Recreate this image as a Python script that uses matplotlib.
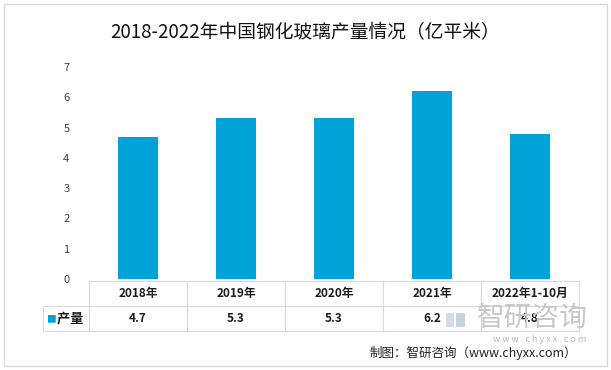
import matplotlib.pyplot as plt
from matplotlib.patches import Rectangle

plt.rcParams['font.family'] = ['Noto Sans CJK SC', 'DejaVu Sans']

years = ["2018年", "2019年", "2020年", "2021年", "2022年1-10月"]
output = [4.7, 5.3, 5.3, 6.2, 4.8]
series_name = "产量"
yticks = [0, 1, 2, 3, 4, 5, 6, 7]

BAR_COLOR = "#00a2da"
GRID_COLOR = "#d9d9d9"

fig = plt.figure(figsize=(6.11, 3.70), dpi=100)
ax = fig.add_axes([89 / 611, 1 - 279 / 370, 490 / 611, 212 / 370])

x = list(range(len(years)))
ax.bar(x, output, width=0.4, color=BAR_COLOR, zorder=2)
ax.set_xlim(-0.5, len(years) - 0.5)
ax.set_ylim(0, 7)
ax.set_yticks(yticks)
ax.set_yticklabels([str(t) for t in yticks], fontsize=8, color="#404040")
ax.tick_params(axis="y", length=0, pad=14)
ax.set_xticks([])
for side in ["top", "right", "left", "bottom"]:
    ax.spines[side].set_visible(False)

# data table under the axes
cell_text = [[""] + years, [series_name] + ["%.1f" % v for v in output]]
tot_w = 536.0
col_w = [46 / tot_w] + [98 / tot_w] * len(years)
tbl = ax.table(cellText=cell_text, colWidths=col_w, cellLoc="center",
               bbox=[-46 / 490, -52 / 212, 536 / 490, 50 / 212])
tbl.auto_set_font_size(False)
for (r, c), cell in tbl.get_celld().items():
    cell.set_edgecolor(GRID_COLOR)
    cell.set_linewidth(0.8)
    cell.get_text().set_fontsize(8.5)
    cell.get_text().set_fontweight("bold")
    cell.get_text().set_color("#1a1a1a")
    if r == 0 and c == 0:
        cell.visible_edges = ""
    if r == 1 and c == 0:
        cell.get_text().set_text("   " + series_name)
        cell.get_text().set_fontsize(9.5)
ax.text(-38 / 490, -40 / 212, "■", transform=ax.transAxes, color=BAR_COLOR,
        fontsize=7, ha="center", va="center")

# title
fig.text(0.5, 1 - 33 / 370, "2018-2022年中国钢化玻璃产量情况（亿平米）",
         ha="center", va="center", fontsize=13.5, color="#111111")

# watermark
fig.text(532 / 611, 1 - 318 / 370, "智研咨询", ha="center", va="center",
         fontsize=20, color="#c8c8c8", zorder=0)
fig.text(540 / 611, 1 - 340 / 370, "w w w . c h y x x . c o m", ha="center",
         va="center", fontsize=6.5, color="#b8b8b8", zorder=0)
fig.patches.append(Rectangle((446 / 611, 1 - 327 / 370), 8 / 611, 14 / 370,
                             transform=fig.transFigure, facecolor="#d3dbe5",
                             edgecolor="none", zorder=0))
fig.patches.append(Rectangle((456 / 611, 1 - 327 / 370), 9 / 611, 14 / 370,
                             transform=fig.transFigure, facecolor="#c4d2e2",
                             edgecolor="none", zorder=0))

# source
fig.text(577 / 611, 1 - 353 / 370, "制图：智研咨询（www.chyxx.com）",
         ha="right", va="center", fontsize=9, color="#222222")

# outer frame
fig.patches.append(Rectangle((4 / 611, 4 / 370), 603 / 611, 362 / 370,
                             transform=fig.transFigure, fill=False,
                             edgecolor="#d9d9d9", linewidth=1))

fig.savefig("out.png", dpi=100)
